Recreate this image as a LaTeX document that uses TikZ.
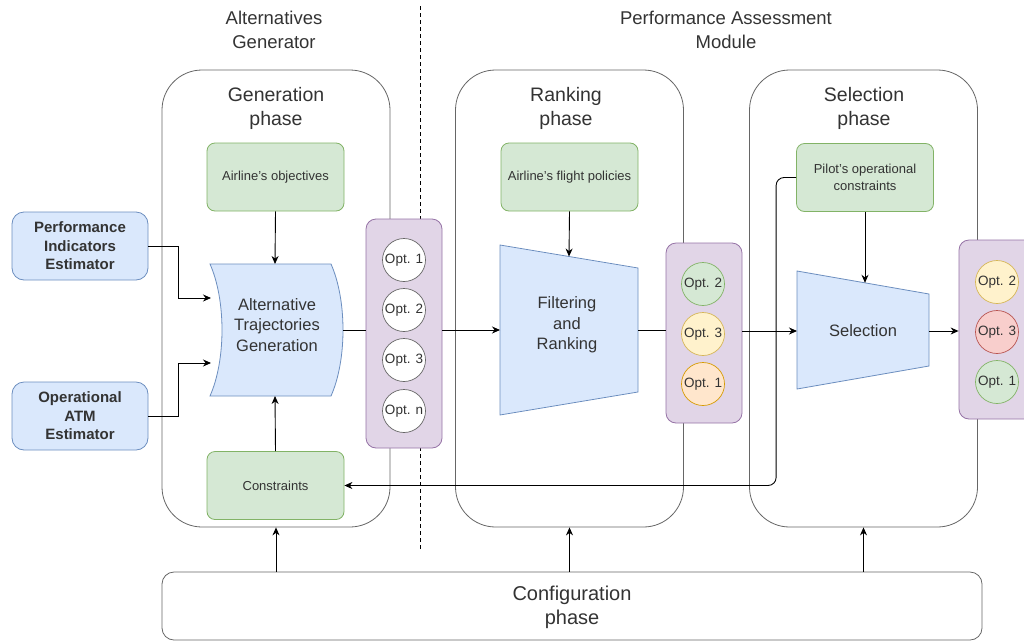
\documentclass[tikz,border=0pt]{standalone}
\usepackage{fontspec}
\setmainfont{Liberation Sans}
\usetikzlibrary{arrows.meta,calc}
\definecolor{txt}{HTML}{333333}
\definecolor{edge}{HTML}{666666}
\definecolor{gfill}{HTML}{D5E8D4}
\definecolor{gline}{HTML}{82B366}
\definecolor{bfill}{HTML}{DAE8FC}
\definecolor{bline}{HTML}{6C8EBF}
\definecolor{pfill}{HTML}{E1D5E7}
\definecolor{pline}{HTML}{9673A6}
\definecolor{yfill}{HTML}{FFF2CC}
\definecolor{yline}{HTML}{D6B656}
\definecolor{ofill}{HTML}{FFE6CC}
\definecolor{oline}{HTML}{D79B00}
\definecolor{rfill}{HTML}{F8CECC}
\definecolor{rline}{HTML}{B85450}
\newcommand{\fs}[2]{\fontsize{#1}{#2}\selectfont}
\begin{document}
\begin{tikzpicture}[x=1pt,y=-1pt,
  every node/.style={text=txt},
  phasebox/.style={draw=edge, line width=0.8pt, fill=white, rounded corners=40pt,
    minimum width=228pt, minimum height=457pt, inner sep=0pt},
  title/.style={align=center, font=\fs{19.5}{24}},
  header/.style={align=center, font=\fs{18.5}{24}},
  gbox/.style={draw=gline, fill=gfill, rounded corners=8pt, line width=0.8pt,
    minimum width=137pt, minimum height=68pt, align=center, font=\fs{13}{17}},
  bbox/.style={draw=bline, fill=bfill, rounded corners=12pt, line width=0.8pt,
    minimum width=136pt, minimum height=68pt, align=center, font=\bfseries\fs{15}{18.5}},
  optcol/.style={draw=pline, fill=pfill, rounded corners=10pt, line width=0.8pt, inner sep=0pt},
  opt/.style={circle, draw=edge, fill=white, minimum size=43pt, inner sep=0pt, line width=0.7pt,
    font=\fs{13.5}{16}},
  blueshape/.style={draw=bline, fill=bfill, line width=0.8pt},
  shapetext/.style={align=center, font=\fs{16.5}{20.5}},
  link/.style={draw=black, line width=0.9pt},
  arr/.style={link, -{Stealth[length=8pt,width=7pt]}}
]
\useasboundingbox (0,0) rectangle (1024,640);
\clip (0,0) rectangle (1024,640);

% module headers and separator
\node[header] (hgen) at (274,30) {Alternatives\\Generator};
\node[header] (hpam) at (726,30) {Performance Assessment\\Module};
\coordinate (sepT) at (420,6);
\coordinate (sepB) at (420,549);
\draw[black, line width=0.7pt, dash pattern=on 4pt off 3pt] (sepT) -- (sepB);

% phase containers
\node[phasebox] (gen) at (276,298.5) {};
\node[phasebox] (rank) at (569.5,298.5) {};
\node[phasebox] (sel) at (863.5,298.5) {};
\node[title] (tgen) at (276,108) {Generation\\phase};
\node[title] (trank) at (566,108) {Ranking\\phase};
\node[title] (tsel) at (864,108) {Selection\\phase};

% configuration phase
\node[draw=edge, line width=0.8pt, fill=white, rounded corners=12pt, minimum width=820pt,
  minimum height=68pt, inner sep=0pt] (conf) at (572,606) {};
\node[title, font=\fs{20}{24}] at (572,607) {Configuration\\phase};

% inputs from other estimators
\node[bbox] (pie) at (80,246) {Performance\\Indicators\\Estimator};
\node[bbox] (oae) at (80,416) {Operational\\ATM\\Estimator};

% green context boxes
\node[gbox] (obj) at (275.5,177) {Airline's objectives};
\node[gbox] (pol) at (569.5,177) {Airline's flight policies};
\node[gbox] (pil) at (865,177.5) {Pilot's operational\\constraints};
\node[gbox] (cons) at (275.5,485.5) {Constraints};

% alternative trajectories generation (curved-sided block)
\path[blueshape] (210,264) -- (331,264) .. controls (347,300) and (347,360) .. (331,396)
  -- (210,396) .. controls (226,360) and (226,300) .. (210,264) -- cycle;
\node[shapetext] (atg) at (277,325) {Alternative\\Trajectories\\Generation};
\coordinate (atgT) at (275,264);
\coordinate (atgB) at (275,396);
\coordinate (atgR) at (343,330);
\coordinate (atgL1) at (211,298);
\coordinate (atgL2) at (211,363);

% filtering and ranking
\path[blueshape] (500,245) -- (638,268) -- (638,392) -- (500,415) -- cycle;
\node[shapetext] (fr) at (567,325) {Filtering\\and\\Ranking};
\coordinate (frL) at (500,330);
\coordinate (frR) at (638,330);
\coordinate (frT) at (569,256.5);

% selection
\path[blueshape] (797,271) -- (929,294) -- (929,366) -- (797,389) -- cycle;
\node[shapetext] (selx) at (863,331) {Selection};
\coordinate (slL) at (797,331);
\coordinate (slR) at (929,331);
\coordinate (slT) at (865,282.8);

% option columns
\node[optcol, minimum width=76pt, minimum height=229pt] (col1) at (404,333.5) {};
\node[opt] (a1) at (404,260) {Opt. 1};
\node[opt] (a2) at (404,310) {Opt. 2};
\node[opt] (a3) at (404,360) {Opt. 3};
\node[opt] (an) at (404,411) {Opt. n};

\node[optcol, minimum width=76pt, minimum height=180pt] (col2) at (704,333) {};
\node[opt, draw=gline, fill=gfill] (b2) at (703,284) {Opt. 2};
\node[opt, draw=yline, fill=yfill] (b3) at (703,334) {Opt. 3};
\node[opt, draw=oline, fill=ofill] (b1) at (703,384) {Opt. 1};

\node[optcol, minimum width=80pt, minimum height=179pt] (col3) at (999,329.5) {};
\node[opt, draw=yline, fill=yfill] (c2) at (997,282) {Opt. 2};
\node[opt, draw=rline, fill=rfill] (c3) at (997,332) {Opt. 3};
\node[opt, draw=gline, fill=gfill] (c1) at (997,382) {Opt. 1};

% connectors
\draw[arr] (pie.east) -- ++(30,0) |- (atgL1);
\draw[arr] (oae.east) -- ++(30,0) |- (atgL2);
\draw[arr] (obj.south) -- (atgT);
\draw[arr] (cons.north) -- (atgB);
\draw[link] (atgR) -- (atgR -| col1.west);
\draw[arr] (col1.east |- frL) -- (frL);
\draw[arr] (pol.south) -- (frT);
\draw[link] (frR) -- (frR -| col2.west);
\draw[arr] (col2.east |- slL) -- (slL);
\draw[arr] (pil.south -| slT) -- (slT);
\draw[arr] (slR) -- (slR -| col3.west);
\draw[arr, rounded corners=8pt] (pil.west) -- ++(-20,0) |- (cons.east);

\draw[arr] (conf.north -| gen.south) -- (gen.south);
\draw[arr] (conf.north -| rank.south) -- (rank.south);
\draw[arr] (conf.north -| sel.south) -- (sel.south);
\end{tikzpicture}
\end{document}
